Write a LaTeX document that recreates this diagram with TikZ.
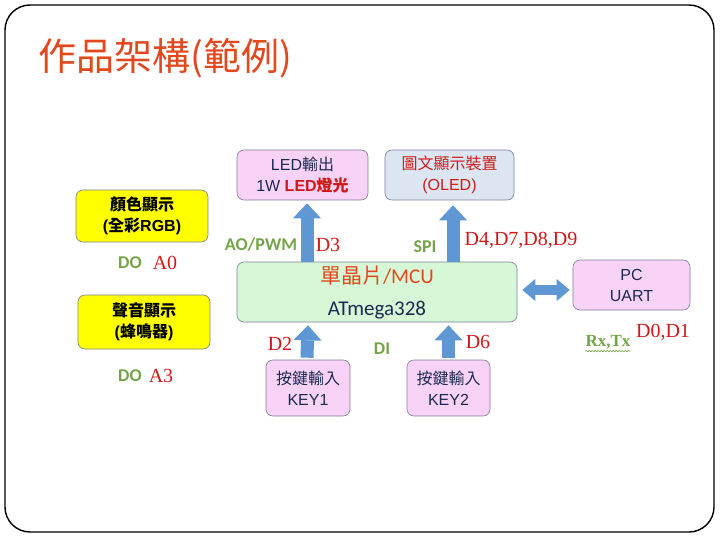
\documentclass[tikz,border=0pt]{standalone}
\usepackage{fontspec}
\setmainfont{Liberation Sans}
\newfontfamily\cjk{Noto Sans CJK TC}
\newfontfamily\calib{Carlito}
\newfontfamily\tnr{Liberation Serif}
\usetikzlibrary{arrows.meta,decorations.pathmorphing}
\definecolor{titlered}{HTML}{E2471D}
\definecolor{navytext}{HTML}{1B2A52}
\definecolor{ledpink}{HTML}{F9D3F7}
\definecolor{oledblue}{HTML}{DCE6F2}
\definecolor{showyellow}{HTML}{FFFF00}
\definecolor{mcugreen}{HTML}{D7F8D7}
\definecolor{boxgray}{HTML}{7A7F95}
\definecolor{arrowblue}{HTML}{5E97D3}
\definecolor{pinred}{HTML}{D01818}
\definecolor{busgreen}{HTML}{74A447}

\begin{document}
\begin{tikzpicture}[
    x=1pt, y=-1pt,
    box/.style={draw=boxgray, line width=0.6pt, rounded corners=7pt, align=center,
      inner sep=0pt, font=\fontsize{16}{21}\selectfont, text=navytext},
    pin/.style={font=\tnr\fontsize{20}{22}\selectfont, text=pinred, inner sep=0pt},
    bus/.style={font=\calib\bfseries\fontsize{18}{20}\selectfont, text=busgreen, inner sep=0pt},
    uparrow/.style={arrowblue, line width=13pt, -{Triangle[width=28pt, length=15pt, line width=0pt]}},
    botharrow/.style={arrowblue, line width=10pt,
      {Triangle[width=22pt, length=13pt, line width=0pt]}-{Triangle[width=22pt, length=13pt, line width=0pt]}}
  ]
    \useasboundingbox (0,0) rectangle (720,540);
    \draw[line width=1.4pt, rounded corners=25pt] (5,5) rectangle (714,532);
    \node[anchor=west, inner sep=0pt, text=titlered, font=\cjk\fontsize{38}{40}\selectfont] (title) at (38,58) {作品架構(範例)};

    % boxes
    \node[box, fill=ledpink, minimum width=131pt, minimum height=50pt] (led) at (302.5,175)
      {LED{\cjk 輸出}\\1W {\color{pinred}\bfseries LED{\cjk 燈光}}};
    \node[box, fill=oledblue, minimum width=129pt, minimum height=50pt, text=pinred] (oled) at (449.5,175)
      {{\cjk 圖文顯示裝置}\\(OLED)};
    \node[box, fill=showyellow, minimum width=132pt, minimum height=52pt, text=black,
      font=\bfseries\fontsize{16}{21}\selectfont] (rgb) at (142,216)
      {{\cjk\bfseries 顏色顯示}\\({\cjk\bfseries 全彩}RGB)};
    \node[box, fill=showyellow, minimum width=132pt, minimum height=54pt, text=black,
      font=\bfseries\fontsize{16}{21}\selectfont] (buzz) at (144,322)
      {{\cjk\bfseries 聲音顯示}\\({\cjk\bfseries 蜂鳴器})};
    \node[box, fill=mcugreen, minimum width=280pt, minimum height=60pt,
      font=\calib\fontsize{21}{32}\selectfont] (mcu) at (377,292)
      {{\color{titlered}{\cjk 單晶片}/MCU}\\ATmega328};
    \node[box, fill=ledpink, minimum width=117pt, minimum height=50pt] (pc) at (631.5,285) {PC\\UART};
    \node[box, fill=ledpink, minimum width=84pt, minimum height=56pt] (key1) at (308,388) {{\cjk 按鍵輸入}\\KEY1};
    \node[box, fill=ledpink, minimum width=83pt, minimum height=56pt] (key2) at (448.5,388) {{\cjk 按鍵輸入}\\KEY2};

    % connectors
    \draw[uparrow] ([xshift=4.5pt]mcu.north -| led.south) -- ([xshift=4.5pt, yshift=-3pt]led.south);
    \draw[uparrow] ([xshift=3.5pt]mcu.north -| oled.south) -- ([xshift=3.5pt, yshift=-5pt]oled.south);
    \draw[uparrow] ([xshift=-1pt, yshift=2pt]key1.north) -- ([yshift=-3pt]key1.north |- mcu.south);
    \draw[uparrow] ([yshift=2pt]key2.north) -- ([yshift=-3pt]key2.north |- mcu.south);
    \draw[botharrow] ([xshift=5pt, yshift=2pt]mcu.east) -- ([xshift=-3pt, yshift=-5pt]pc.west);

    % pin labels
    \node[bus] (pwm) at (261,245) {AO/PWM};
    \node[pin] (d3) at (328,245) {D3};
    \node[bus] (spi) at (425,247) {SPI};
    \node[pin] (dspi) at (521,240) {D4,D7,D8,D9};
    \node[bus] (do1) at (130,263) {DO};
    \node[pin] (a0) at (165,263) {A0};
    \node[bus] (do2) at (130,376) {DO};
    \node[pin] (a3) at (161,376) {A3};
    \node[pin] (d2) at (280,344) {D2};
    \node[bus] (di) at (382,349) {DI};
    \node[pin] (d6) at (478,342) {D6};
    \node[bus, font=\tnr\bfseries\fontsize{17}{20}\selectfont] (rxtx) at (608,342) {Rx,Tx};
    \node[pin] (duart) at (663,332) {D0,D1};
    \draw[busgreen, line width=0.6pt, decorate, decoration={snake, amplitude=0.7pt, segment length=3pt}]
      ([yshift=-2pt]rxtx.south west) -- ([yshift=-2pt]rxtx.south east);
  \end{tikzpicture}
\end{document}
